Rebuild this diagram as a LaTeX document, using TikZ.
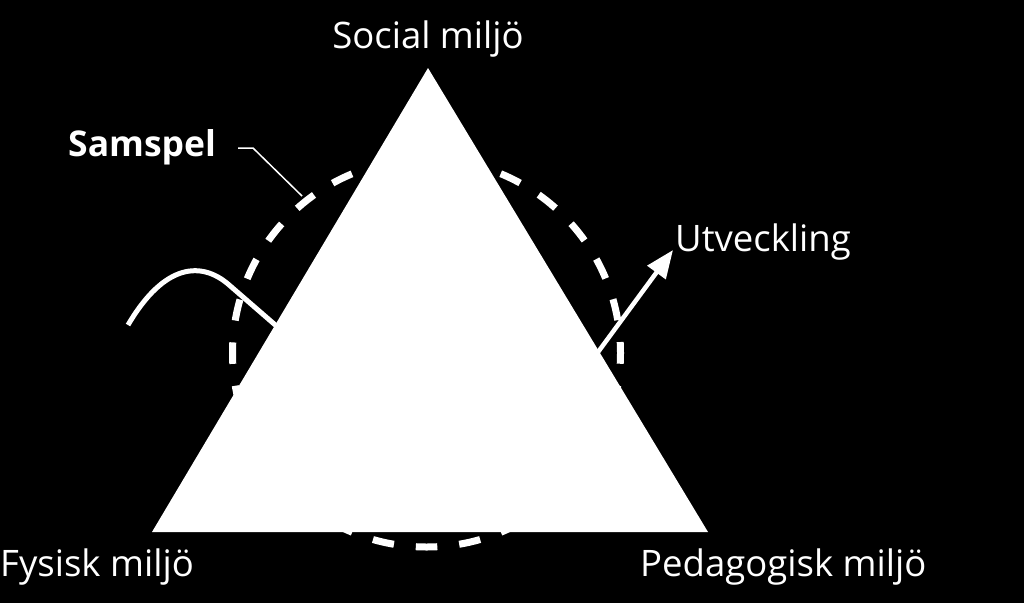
\documentclass[tikz,border=0pt]{standalone}
\usepackage{fontspec}
\setmainfont{Open Sans}
\usetikzlibrary{arrows.meta}
\begin{document}
\begin{tikzpicture}[x=1pt,y=-1pt,
  lbl/.style={text=white,font=\fontsize{36.5}{44}\selectfont,inner sep=0pt},
  boldlbl/.style={lbl,font=\fontsize{35.5}{44}\selectfont\bfseries},
  ring/.style={draw=white,line width=7pt,dash pattern=on 21.5pt off 22.03pt,dash phase=10.75pt},
  wave/.style={draw=white,line width=5pt},
  growth/.style={draw=white,line width=4.5pt,-{Triangle[length=28pt,width=22pt]}},
  leader/.style={draw=white,line width=1.5pt},
  tri/.style={fill=white}]
\fill[black] (0,0) rectangle (1024,603);
\useasboundingbox (0,0) rectangle (1024,603);
% geometry
\coordinate (top) at (428,68);
\coordinate (bl) at (152,532);
\coordinate (br) at (708,532);
\coordinate (c) at (426.5,353);
% dashed ring
\draw[ring] (c) circle (194);
% wave
\coordinate (w1) at (128,325);
\coordinate (w2) at (165,262);
\coordinate (w3) at (202,262);
\coordinate (w4) at (228,284);
\coordinate (w5) at (288,336);
\draw[wave] (w1) .. controls (w2) and (w3) .. (w4) -- (w5);
% arrow
\coordinate (a1) at (590,363);
\coordinate (a2) at (673,250);
\draw[growth] (a1) -- (a2);
% triangle
\fill[tri] (top) -- (bl) -- (br) -- cycle;
% labels
\node[lbl,anchor=base] (social) at (428,48) {Social miljö};
\node[lbl,anchor=base west] (fys) at (0,576) {Fysisk miljö};
\node[lbl,anchor=base west] (ped) at (640,576) {Pedagogisk miljö};
\node[lbl,anchor=base west] (utv) at (675,251) {Utveckling};
\node[boldlbl,anchor=base west] (sam) at (68,156) {Samspel};
% leader
\coordinate (l1) at (238,148);
\coordinate (l2) at (253,148);
\coordinate (l3) at (302,196);
\draw[leader] (l1) -- (l2) -- (l3);
\end{tikzpicture}
\end{document}
